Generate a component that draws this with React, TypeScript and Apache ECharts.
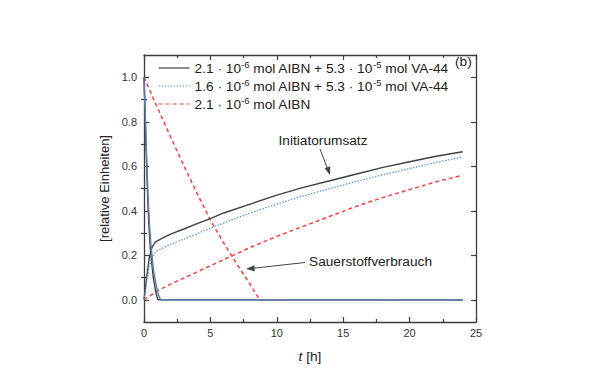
import React, { useEffect, useRef } from 'react';
import * as echarts from 'echarts';

// ---- data ----
const seriesNames = [
  '2.1 · 10-6 mol AIBN + 5.3 · 10-5 mol VA-44',
  '1.6 · 10-6 mol AIBN + 5.3 · 10-5 mol VA-44',
  '2.1 · 10-6 mol AIBN',
];
const legendLabels = [
  '{n|2.1 · 10}{s|-6}{n| mol AIBN + 5.3 · 10}{s|-5}{n| mol VA-44}',
  '{n|1.6 · 10}{s|-6}{n| mol AIBN + 5.3 · 10}{s|-5}{n| mol VA-44}',
  '{n|2.1 · 10}{s|-6}{n| mol AIBN}',
];

// initiator conversion (rising curves)
const blackRiseT = [0, 0.2, 0.4, 0.6, 0.8, 1, 1.5, 2, 3, 4, 5, 6, 8, 10, 12, 14, 16, 18, 20, 22, 24];
const blackRiseV = [0, 0.1, 0.19, 0.235, 0.255, 0.265, 0.28, 0.295, 0.318, 0.342, 0.365, 0.39, 0.43, 0.47, 0.505, 0.535, 0.565, 0.595, 0.62, 0.645, 0.665];
const blueRiseT = [0, 0.2, 0.4, 0.6, 0.8, 1, 1.5, 2, 3, 4, 5, 6, 8, 10, 12, 14, 16, 18, 20, 22, 24];
const blueRiseV = [0, 0.08, 0.15, 0.19, 0.21, 0.22, 0.235, 0.25, 0.272, 0.297, 0.322, 0.345, 0.39, 0.43, 0.467, 0.5, 0.532, 0.562, 0.59, 0.617, 0.642];
const redRiseT = [0, 1, 2, 4, 6, 8, 10, 12, 14, 16, 18, 20, 22, 24];
const redRiseV = [0, 0.04, 0.07, 0.125, 0.18, 0.235, 0.285, 0.33, 0.375, 0.42, 0.46, 0.495, 0.53, 0.56];

// oxygen consumption (falling curves)
const blackFallT = [0, 0.1, 0.2, 0.3, 0.4, 0.5, 0.7, 0.9, 1.05, 24];
const blackFallV = [1, 0.8, 0.6, 0.42, 0.3, 0.21, 0.1, 0.03, 0, 0];
const blueFallT = [0, 0.1, 0.2, 0.3, 0.4, 0.5, 0.7, 0.9, 1.1, 1.25, 24];
const blueFallV = [1, 0.82, 0.64, 0.47, 0.35, 0.26, 0.14, 0.07, 0.02, 0, 0];
const redFallT = [0, 1, 2, 3, 4, 5, 6, 7, 8, 8.7, 24];
const redFallV = [1, 0.865, 0.732, 0.603, 0.478, 0.358, 0.255, 0.16, 0.068, 0, 0];

const xTicks = [0, 5, 10, 15, 20, 25];
const yMajorTicks = [0, 0.2, 0.4, 0.6, 0.8, 1.0];
const yMinorTicks = [0.1, 0.3, 0.5, 0.7, 0.9];

const zip = (t: number[], v: number[]) => t.map((x, i) => [x, v[i]]);

const FONT = 'Liberation Sans, Arial, sans-serif';
const AXIS = '#3c3c3c';
const BLACK = '#404040';
const BLUE = '#5b9bd5';
const BLUE_FALL = '#5a7db3';
const RED = '#ff3f3f';
const FS = 13.7;

export default function App() {
  const ref = useRef<HTMLDivElement>(null);
  useEffect(() => {
    const chart = echarts.init(ref.current!, null, { renderer: 'svg' });
    const axisLine = { show: true, onZero: false, lineStyle: { color: AXIS, width: 1.3 } };
    const tickStyle = { color: AXIS, width: 1.2 };
    const yBase = { type: 'value', min: -0.1, max: 1.1, offset: 0, splitLine: { show: false } };
    const lineSeries = (name: string, data: number[][], color: string, type: any, width: number, z: number) => ({
      type: 'line', name, data, showSymbol: false, symbol: 'none', z,
      lineStyle: { color, type, width }, itemStyle: { color },
      xAxisIndex: 0, yAxisIndex: 0,
    });
    chart.setOption({
      animation: false,
      backgroundColor: '#ffffff',
      textStyle: { fontFamily: FONT },
      grid: { left: 144, right: 124, top: 55, bottom: 66 },
      legend: {
        orient: 'vertical', left: 158, top: 59, padding: 0,
        itemWidth: 31, itemHeight: 14, itemGap: 2,
        data: seriesNames,
        itemStyle: { opacity: 0, borderWidth: 0 },
        lineStyle: { width: 1.2 },
        formatter: (n: string) => legendLabels[seriesNames.indexOf(n)],
        textStyle: {
          fontFamily: FONT, color: '#222',
          rich: {
            n: { fontSize: FS, lineHeight: 18, color: '#222', fontFamily: FONT },
            s: { fontSize: 9.5, lineHeight: 9, verticalAlign: 'top', color: '#222', fontFamily: FONT },
          },
        },
      },
      xAxis: [
        {
          type: 'value', min: 0, max: 25, interval: 5, position: 'bottom',
          axisLine, splitLine: { show: false },
          axisTick: { show: true, inside: true, length: 5, lineStyle: tickStyle },
          minorTick: { show: true, splitNumber: 2, length: 3, lineStyle: tickStyle },
          axisLabel: { margin: 5, fontSize: 11, color: '#333', fontFamily: FONT,
            customValues: xTicks },
          name: '{i|t} [h]', nameLocation: 'middle', nameGap: 27,
          nameTextStyle: { fontSize: FS, color: '#222', fontFamily: FONT,
            rich: { i: { fontStyle: 'italic', fontSize: FS, fontFamily: FONT } } },
        },
        {
          type: 'value', min: 0, max: 25, interval: 5, position: 'top',
          axisLine, splitLine: { show: false },
          axisTick: { show: true, inside: true, length: 5, lineStyle: tickStyle },
          minorTick: { show: true, splitNumber: 2, length: 3, lineStyle: tickStyle },
          axisLabel: { show: false },
        },
      ],
      yAxis: [
        {
          ...yBase, position: 'left', axisLine,
          axisTick: { show: true, inside: true, length: 5, lineStyle: tickStyle, customValues: yMajorTicks },
          axisLabel: { margin: 7, fontSize: 11, color: '#333', fontFamily: FONT,
            customValues: yMajorTicks, formatter: (v: number) => v.toFixed(1) },
          name: '[relative Einheiten]', nameLocation: 'middle', nameGap: 23, nameRotate: 90,
          nameTextStyle: { fontSize: 13, color: '#222', fontFamily: FONT },
        },
        {
          ...yBase, position: 'right', axisLine,
          axisTick: { show: true, inside: true, length: 5, lineStyle: tickStyle, customValues: yMajorTicks },
          axisLabel: { show: false },
        },
        {
          ...yBase, position: 'left', axisLine: { show: false },
          axisTick: { show: true, inside: true, length: 3, lineStyle: tickStyle, customValues: yMinorTicks },
          axisLabel: { show: false },
        },
        {
          ...yBase, position: 'right', axisLine: { show: false },
          axisTick: { show: true, inside: true, length: 3, lineStyle: tickStyle, customValues: yMinorTicks },
          axisLabel: { show: false },
        },
      ],
      series: [
        lineSeries(seriesNames[0], zip(blackRiseT, blackRiseV), BLACK, 'solid', 1.4, 3),
        lineSeries(seriesNames[1], zip(blueRiseT, blueRiseV), BLUE, [1.5, 1.5], 1.3, 4),
        lineSeries(seriesNames[2], zip(redRiseT, redRiseV), RED, [4, 3], 1.5, 2),
        lineSeries(seriesNames[2], zip(redFallT, redFallV), RED, [4, 3], 1.5, 2),
        lineSeries(seriesNames[0], zip(blackFallT, blackFallV), BLACK, 'solid', 1.4, 3),
        lineSeries(seriesNames[1], zip(blueFallT, blueFallV), BLUE_FALL, 'solid', 1.4, 5),
      ],
      graphic: [
        { type: 'text', left: 455, top: 54, style: { text: '(b)', fontSize: FS, fill: '#222', fontFamily: FONT } },
        { type: 'text', x: 323, y: 140, style: { text: 'Initiatorumsatz', fontSize: FS, fill: '#222', fontFamily: FONT, align: 'center', verticalAlign: 'middle' } },
        { type: 'line', shape: { x1: 320, y1: 149, x2: 328, y2: 170 }, style: { stroke: '#444', lineWidth: 1 } },
        { type: 'polygon', shape: { points: [[330, 175], [324.6, 168.3], [330.2, 166.3]] }, style: { fill: '#444' } },
        { type: 'text', x: 309, y: 261, style: { text: 'Sauerstoffverbrauch', fontSize: FS, fill: '#222', fontFamily: FONT, align: 'left', verticalAlign: 'middle' } },
        { type: 'line', shape: { x1: 305, y1: 262.5, x2: 252, y2: 268.4 }, style: { stroke: '#444', lineWidth: 1 } },
        { type: 'polygon', shape: { points: [[246, 269], [254.3, 265.3], [254.8, 271.2]] }, style: { fill: '#444' } },
      ],
    });
    return () => chart.dispose();
  }, []);
  return <div ref={ref} style={{ position: 'fixed', left: 0, top: 0, width: 600, height: 388 }} />;
}
